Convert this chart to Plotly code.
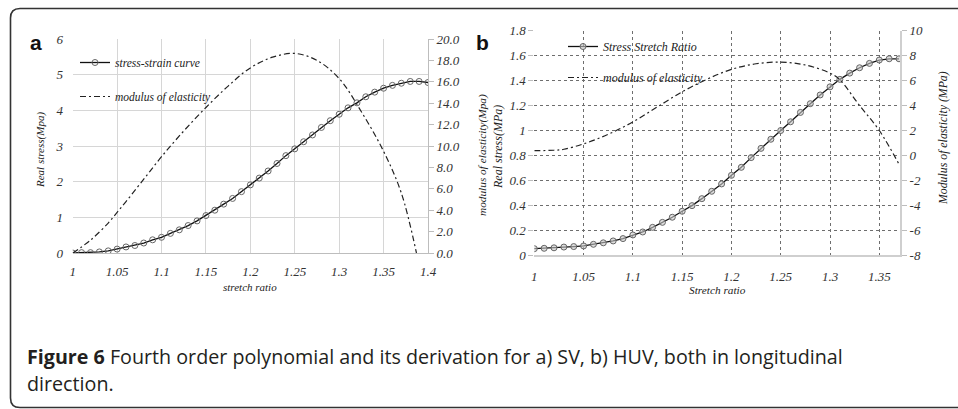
import plotly.graph_objects as go

# ---------------- data ----------------
# Panel a (SV)
stretch_a = [1.00, 1.01, 1.02, 1.03, 1.04, 1.05, 1.06, 1.07, 1.08, 1.09,
             1.10, 1.11, 1.12, 1.13, 1.14, 1.15, 1.16, 1.17, 1.18, 1.19,
             1.20, 1.21, 1.22, 1.23, 1.24, 1.25, 1.26, 1.27, 1.28, 1.29,
             1.30, 1.31, 1.32, 1.33, 1.34, 1.35, 1.36, 1.37, 1.38, 1.39, 1.40]
stress_a = [0.00, 0.01, 0.01, 0.03, 0.06, 0.11, 0.17, 0.21, 0.28, 0.37,
            0.44, 0.55, 0.65, 0.77, 0.90, 1.05, 1.20, 1.37, 1.53, 1.72,
            1.91, 2.10, 2.30, 2.51, 2.73, 2.92, 3.12, 3.31, 3.52, 3.71,
            3.89, 4.07, 4.21, 4.38, 4.51, 4.62, 4.70, 4.76, 4.81, 4.81, 4.78]
mod_x_a = [1.00, 1.02, 1.04, 1.05, 1.06, 1.08, 1.10, 1.125, 1.15, 1.175,
           1.20, 1.225, 1.25, 1.275, 1.30, 1.325, 1.35, 1.37, 1.387]
modulus_a = [0.0, 1.2, 2.8, 3.8, 4.8, 6.9, 9.0, 11.4, 13.6, 15.6,
             17.3, 18.3, 18.65, 18.0, 16.3, 13.2, 9.5, 5.6, 0.0]

# Panel b (HUV)
stretch_b = [1.00, 1.01, 1.02, 1.03, 1.04, 1.05, 1.06, 1.07, 1.08, 1.09,
             1.10, 1.11, 1.12, 1.13, 1.14, 1.15, 1.16, 1.17, 1.18, 1.19,
             1.20, 1.21, 1.22, 1.23, 1.24, 1.25, 1.26, 1.27, 1.28, 1.29,
             1.30, 1.31, 1.32, 1.33, 1.34, 1.35, 1.36, 1.37]
stress_b = [0.053, 0.056, 0.060, 0.066, 0.070, 0.075, 0.088, 0.100, 0.115, 0.134,
            0.163, 0.187, 0.224, 0.264, 0.305, 0.353, 0.398, 0.454, 0.513, 0.572,
            0.641, 0.705, 0.783, 0.857, 0.930, 1.000, 1.070, 1.145, 1.215, 1.285,
            1.350, 1.410, 1.460, 1.503, 1.538, 1.565, 1.575, 1.575]
mod_x_b = [1.00, 1.02, 1.03, 1.05, 1.075, 1.10, 1.125, 1.15, 1.175, 1.20,
           1.225, 1.25, 1.275, 1.30, 1.31, 1.33, 1.35, 1.37]
modulus_b = [0.39, 0.42, 0.50, 0.93, 1.70, 2.69, 3.90, 5.10, 6.10, 6.90,
             7.35, 7.48, 7.25, 6.60, 6.06, 4.00, 2.00, -0.70]

# ticks
xticks_a = [1, 1.05, 1.1, 1.15, 1.2, 1.25, 1.3, 1.35, 1.4]
xticks_b = [1, 1.05, 1.1, 1.15, 1.2, 1.25, 1.3, 1.35]
xtick_text_a = ["1", "1.05", "1.1", "1.15", "1.2", "1.25", "1.3", "1.35", "1.4"]
xtick_text_b = ["1", "1.05", "1.1", "1.15", "1.2", "1.25", "1.3", "1.35"]
yleft_a = [0, 1, 2, 3, 4, 5, 6]
yright_a = [0, 2, 4, 6, 8, 10, 12, 14, 16, 18, 20]
yright_a_text = ["0.0", "2.0", "4.0", "6.0", "8.0", "10.0", "12.0", "14.0", "16.0", "18.0", "20.0"]
yleft_b = [0, 0.2, 0.4, 0.6, 0.8, 1.0, 1.2, 1.4, 1.6, 1.8]
yleft_b_text = ["0", "0.2", "0.4", "0.6", "0.8", "1", "1.2", "1.4", "1.6", "1.8"]
yright_b = [-8, -6, -4, -2, 0, 2, 4, 6, 8, 10]
yright_b_text = ["-8", "-6", "-4", "-2", "0", "2", "4", "6", "8", "10"]

# ---------------- layout helpers ----------------
W, H = 958, 409


def px(x):
    return x / W


def py(y):
    return 1 - y / H


SERIF = "Liberation Serif, Times New Roman, serif"
tickfont = dict(family=SERIF, size=13, color="#333", style="italic")
DASHDOT = "6px,3px,2px,3px"

fig = go.Figure()

fig.add_trace(go.Scatter(
    x=stretch_a, y=stress_a, mode="lines+markers", name="stress-strain curve",
    line=dict(color="#111", width=1.3),
    marker=dict(symbol="circle-open", size=6, color="#666", line=dict(width=1)),
    xaxis="x", yaxis="y", legend="legend", legendgroup="a1"))
fig.add_trace(go.Scatter(
    x=mod_x_a, y=modulus_a, mode="lines", name="modulus of elasticity",
    line=dict(color="#222", width=1.2, dash=DASHDOT, shape="spline"),
    xaxis="x", yaxis="y2", legend="legend", legendgroup="a2"))

fig.add_trace(go.Scatter(
    x=stretch_b, y=stress_b, mode="lines+markers", name="Stress Stretch Ratio",
    line=dict(color="#111", width=1.3),
    marker=dict(symbol="circle", size=6, color="rgba(200,200,200,0.6)",
                line=dict(width=1, color="#666")),
    xaxis="x3", yaxis="y3", legend="legend2", legendgroup="b1"))
fig.add_trace(go.Scatter(
    x=mod_x_b, y=modulus_b, mode="lines", name="modulus of elasticity",
    line=dict(color="#222", width=1.2, dash=DASHDOT, shape="spline"),
    xaxis="x3", yaxis="y4", legend="legend2", legendgroup="b2"))

common_axis = dict(zeroline=False, tickfont=tickfont, fixedrange=True, automargin=False)

layout = dict(
    width=W, height=H,
    margin=dict(l=0, r=0, t=0, b=0, pad=0, autoexpand=False),
    paper_bgcolor="white", plot_bgcolor="white",
    showlegend=True,
    xaxis=dict(domain=[px(72.7), px(428)], range=[1, 1.4], anchor="y",
               tickvals=xticks_a, ticktext=xtick_text_a,
               showgrid=True, gridcolor="#d6d6d6", gridwidth=1,
               showline=True, linecolor="#bdbdbd", linewidth=1,
               ticks="outside", ticklen=6, tickcolor="rgba(0,0,0,0)", **common_axis),
    yaxis=dict(domain=[py(253), py(39)], range=[0, 6], anchor="x",
               tickvals=yleft_a, ticktext=[str(v) for v in yleft_a],
               showgrid=True, gridcolor="#d6d6d6", gridwidth=1, showline=False,
               ticks="outside", ticklen=6, tickcolor="rgba(0,0,0,0)", **common_axis),
    yaxis2=dict(overlaying="y", side="right", anchor="x", range=[0, 20],
                tickvals=yright_a, ticktext=yright_a_text, showgrid=False,
                showline=True, linecolor="#bdbdbd", linewidth=1,
                ticks="outside", ticklen=5, tickcolor="#bdbdbd", **common_axis),
    xaxis3=dict(domain=[px(534.3), px(900)], range=[1, 1.371], anchor="y3",
                tickvals=xticks_b, ticktext=xtick_text_b,
                showgrid=True, gridcolor="#6e6e6e", gridwidth=1, griddash="dot",
                showline=True, linecolor="#cfcfcf", linewidth=1.5,
                ticks="outside", ticklen=8, tickcolor="rgba(0,0,0,0)", **common_axis),
    yaxis3=dict(domain=[py(255.3), py(30.7)], range=[0, 1.8], anchor="x3",
                tickvals=yleft_b, ticktext=yleft_b_text,
                showgrid=True, gridcolor="#6e6e6e", gridwidth=1, griddash="dot",
                showline=False, ticks="outside", ticklen=5, tickcolor="#bdbdbd",
                **common_axis),
    yaxis4=dict(overlaying="y3", side="right", anchor="x3", range=[-8, 10],
                tickvals=yright_b, ticktext=yright_b_text, showgrid=False,
                showline=True, linecolor="#cfcfcf", linewidth=2,
                ticks="outside", ticklen=5, tickcolor="#bdbdbd", **common_axis),
    legend=dict(x=px(75), y=py(48), xanchor="left", yanchor="top",
                bgcolor="rgba(0,0,0,0)", borderwidth=0,
                font=dict(family=SERIF, size=11.5, color="#222", style="italic"),
                tracegroupgap=15, itemwidth=30, traceorder="grouped"),
    legend2=dict(x=px(563), y=py(32), xanchor="left", yanchor="top",
                 bgcolor="rgba(0,0,0,0)", borderwidth=0,
                 font=dict(family=SERIF, size=12, color="#222", style="italic"),
                 tracegroupgap=12, itemwidth=30, traceorder="grouped"),
)
fig.update_layout(**layout)

ann = []


def title(text, x, y, angle=0, size=12):
    ann.append(dict(text=text, x=px(x), y=py(y), xref="paper", yref="paper",
                    showarrow=False, textangle=angle, xanchor="center", yanchor="middle",
                    font=dict(family=SERIF, size=size, color="#222", style="italic")))


title("Real stress(Mpa)", 40, 150, -90, 11)
title("modulus of elasticity(Mpa)", 482, 155, -90, 11.3)
title("stretch ratio", 250, 287, 0, 11)
title("Real stress(MPa)", 498, 147, -90, 12)
title("Stretch ratio", 717, 290, 0, 11.3)
title("Modulus of elasticity (MPa)", 943, 138, -90, 11.8)

for lab, x in (("a", 36), ("b", 483)):
    ann.append(dict(text="<b>%s</b>" % lab, x=px(x), y=py(42), xref="paper", yref="paper",
                    showarrow=False, xanchor="center", yanchor="middle",
                    font=dict(family="Liberation Sans, Arial, sans-serif", size=21, color="#111")))

CAPFONT = dict(family="Open Sans, Noto Sans, sans-serif", size=19.7, color="#231f20")
ann.append(dict(text="<b>Figure 6</b> Fourth order polynomial and its derivation for a) SV, b) HUV, both in longitudinal",
                x=px(25), y=py(356), xref="paper", yref="paper", showarrow=False,
                xanchor="left", yanchor="middle", font=CAPFONT))
ann.append(dict(text="direction.", x=px(25), y=py(383), xref="paper", yref="paper",
                showarrow=False, xanchor="left", yanchor="middle", font=CAPFONT))
fig.update_layout(annotations=ann)

# rounded frame (open on the right side, as in the cropped original)
frame = ("M %f,%f L %f,%f Q %f,%f %f,%f L %f,%f Q %f,%f %f,%f L %f,%f" % (
    px(960), py(8.5), px(20), py(8.5), px(10.5), py(8.5), px(10.5), py(18),
    px(10.5), py(398), px(10.5), py(407.5), px(20), py(407.5), px(960), py(407.5)))
fig.update_layout(shapes=[dict(type="path", path=frame, xref="paper", yref="paper",
                               line=dict(color="#333", width=1.6))])

fig.write_html("out.html", config={"displayModeBar": False},
               post_script="document.body.style.margin='0';document.body.style.overflow='hidden';")
